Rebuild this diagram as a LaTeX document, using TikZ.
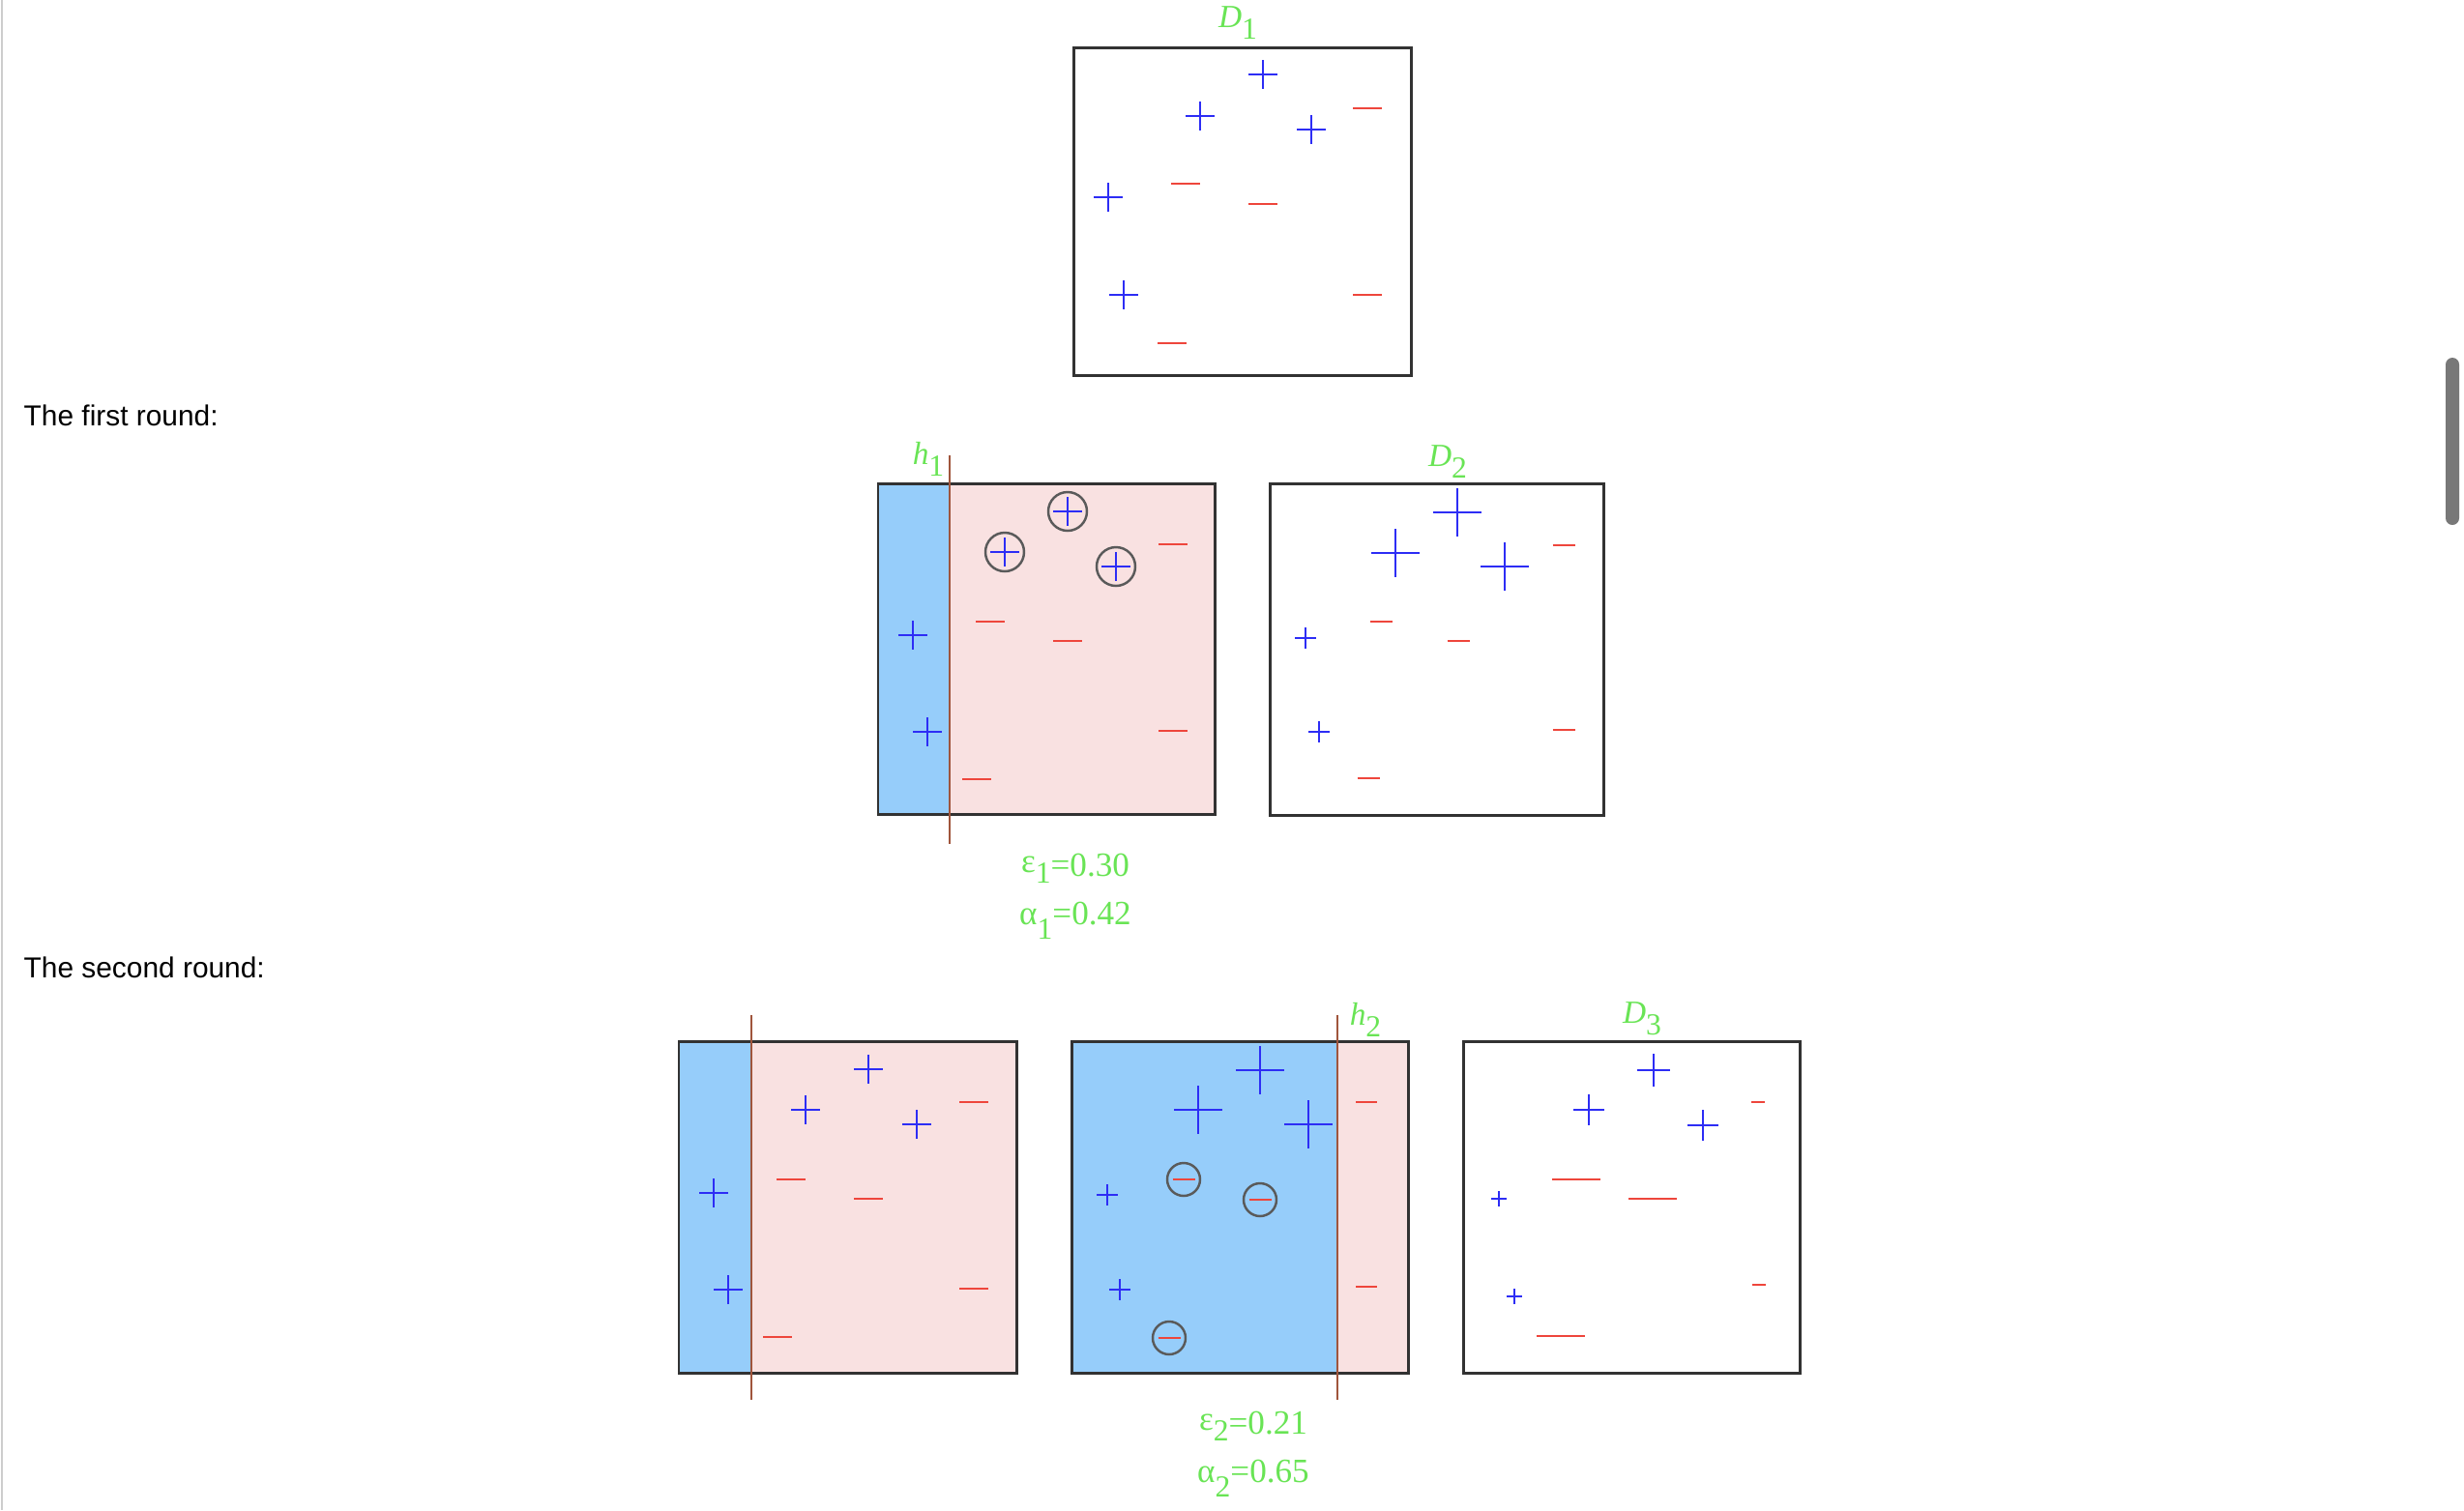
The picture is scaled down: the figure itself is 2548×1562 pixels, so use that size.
\documentclass[tikz,border=0pt]{standalone}
\usepackage{fontspec}
\setmainfont{Liberation Serif}
\newfontfamily\uisans{Liberation Sans}
\definecolor{pblue}{RGB}{45,45,245}
\definecolor{mred}{RGB}{238,70,60}
\definecolor{lgreen}{RGB}{105,228,85}
\definecolor{fillblue}{RGB}{150,205,250}
\definecolor{fillpink}{RGB}{249,225,225}
\definecolor{hbrown}{RGB}{160,85,60}
\definecolor{boxgray}{RGB}{50,50,50}
\definecolor{ringgray}{RGB}{90,90,90}
\definecolor{bordergray}{RGB}{205,205,205}
\definecolor{scrollgray}{RGB}{120,120,120}
\newcommand\mkplus[2]{\draw[plusmark] (#1) +(-#2,0) -- +(#2,0) +(0,-#2) -- +(0,#2);}
\newcommand\mkminus[2]{\draw[minusmark] (#1) +(-#2,0) -- +(#2,0);}
\newcommand\mkring[2]{\draw[ringmark] (#1) circle[radius=#2mm];}
\newcommand\lowsub[2]{\raisebox{-#1em}{\fontsize{9}{10}\selectfont #2}}
\tikzset{
  boxline/.style={draw=boxgray, line width=0.85pt},
  plusmark/.style={draw=pblue, line width=0.7pt},
  minusmark/.style={draw=mred, line width=0.8pt},
  ringmark/.style={draw=ringgray, line width=0.7pt},
  splitline/.style={draw=hbrown, line width=0.6pt},
  glabel/.style={text=lgreen, font=\fontsize{9.5}{11}\selectfont, inner sep=0pt, anchor=base},
  vlabel/.style={text=lgreen, font=\fontsize{10}{12}\selectfont, inner sep=0pt, anchor=base},
  roundtext/.style={font=\uisans\fontsize{8.5}{10}\selectfont, anchor=base west, inner sep=0pt},
}
\begin{document}
\begin{tikzpicture}[x=0.1mm, y=-0.1mm]
\useasboundingbox (0,0) rectangle (2548,1562);
% page decorations
\draw[draw=bordergray, line width=0.8pt] (2,0) -- (2,1562);
\fill[scrollgray, rounded corners=0.7mm] (2529,370) rectangle (2543,543);
% left texts
\node[roundtext] (r1) at (24,440) {The first round:};
\node[roundtext] (r2) at (24,1011) {The second round:};

% ---------- D1 ----------
\begin{scope}[shift={(1110,49)}]
  \draw[boxline] (0,0) rectangle (349,339);
  \mkplus{196,28}{15} \mkplus{131,71}{15} \mkplus{246,85}{15}
  \mkplus{36,155}{15} \mkplus{52,256}{15}
  \mkminus{304,63}{15} \mkminus{116,141}{15} \mkminus{196,162}{15}
  \mkminus{304,256}{15} \mkminus{102,306}{15}
\end{scope}
\node[glabel] (labD1) at (1280,28) {\textit{D}\lowsub{0.38}{1}};

% ---------- first round: h1 ----------
\begin{scope}[shift={(908,500)}]
  \fill[fillblue] (0,0) rectangle (74,342);
  \fill[fillpink] (74,0) rectangle (348,342);
  \draw[boxline] (0,0) rectangle (348,342);
  \mkring{196,29}{2} \mkring{131,71}{2} \mkring{246,86}{2}
  \mkplus{196,29}{15} \mkplus{131,71}{15} \mkplus{246,86}{15}
  \mkplus{36,157}{15} \mkplus{51,257}{15}
  \mkminus{305,63}{15} \mkminus{116,143}{15} \mkminus{196,163}{15}
  \mkminus{305,256}{15} \mkminus{102,306}{15}
  \coordinate (h1top) at (74,-29);
  \coordinate (h1bot) at (74,373);
  \draw[splitline] (h1top) -- (h1bot);
\end{scope}
\node[glabel] (labh1) at (960,480) {\textit{h}\lowsub{0.38}{1}};
\node[vlabel] (eps1) at (1112,906) {\raisebox{0.1em}{ε}\lowsub{0.22}{1}=0.30};
\node[vlabel] (alp1) at (1112,956) {α\lowsub{0.45}{1}=0.42};

% ---------- D2 ----------
\begin{scope}[shift={(1313,500)}]
  \draw[boxline] (0,0) rectangle (345,343);
  \mkplus{194,30}{25} \mkplus{130,72}{25} \mkplus{243,86}{25}
  \mkplus{37,160}{11} \mkplus{51,257}{11}
  \mkminus{304,64}{11.5} \mkminus{115,143}{11.5} \mkminus{195,163}{11.5}
  \mkminus{304,255}{11.5} \mkminus{102,305}{11.5}
\end{scope}
\node[glabel] (labD2) at (1497,482) {\textit{D}\lowsub{0.38}{2}};

% ---------- second round: h1 again ----------
\begin{scope}[shift={(702,1077)}]
  \fill[fillblue] (0,0) rectangle (74,343);
  \fill[fillpink] (74,0) rectangle (349,343);
  \draw[boxline] (0,0) rectangle (349,343);
  \mkplus{196,29}{15} \mkplus{131,71}{15} \mkplus{246,86}{15}
  \mkplus{36,157}{15} \mkplus{51,257}{15}
  \mkminus{305,63}{15} \mkminus{116,143}{15} \mkminus{196,163}{15}
  \mkminus{305,256}{15} \mkminus{102,306}{15}
  \coordinate (h1btop) at (75,-27);
  \coordinate (h1bbot) at (75,371);
  \draw[splitline] (h1btop) -- (h1bbot);
\end{scope}

% ---------- second round: h2 ----------
\begin{scope}[shift={(1108,1077)}]
  \fill[fillblue] (0,0) rectangle (275,343);
  \fill[fillpink] (275,0) rectangle (348,343);
  \draw[boxline] (0,0) rectangle (348,343);
  \mkplus{195,30}{25} \mkplus{131,71}{25} \mkplus{245,86}{25}
  \mkplus{37,159}{11} \mkplus{50,257}{11}
  \mkring{116,143}{1.7} \mkring{195,164}{1.7} \mkring{101,307}{1.7}
  \mkminus{116,143}{11.5} \mkminus{195,164}{11.5} \mkminus{101,307}{11.5}
  \mkminus{305,63}{11} \mkminus{305,254}{11}
  \coordinate (h2top) at (275,-27);
  \coordinate (h2bot) at (275,371);
  \draw[splitline] (h2top) -- (h2bot);
\end{scope}
\node[glabel] (labh2) at (1412,1060) {\textit{h}\lowsub{0.38}{2}};
\node[vlabel] (eps2) at (1296,1483) {\raisebox{0.1em}{ε}\lowsub{0.22}{2}=0.21};
\node[vlabel] (alp2) at (1296,1533) {α\lowsub{0.45}{2}=0.65};

% ---------- D3 ----------
\begin{scope}[shift={(1513,1077)}]
  \draw[boxline] (0,0) rectangle (348,343);
  \mkplus{197,30}{17} \mkplus{130,71}{16} \mkplus{248,87}{16}
  \mkplus{37,163}{8} \mkplus{53,264}{8}
  \mkminus{305,63}{7} \mkminus{306,252}{7}
  \mkminus{117,143}{25} \mkminus{196,163}{25} \mkminus{101,305}{25}
\end{scope}
\node[glabel] (labD3) at (1698,1058) {\textit{D}\lowsub{0.38}{3}};
\end{tikzpicture}
\end{document}
